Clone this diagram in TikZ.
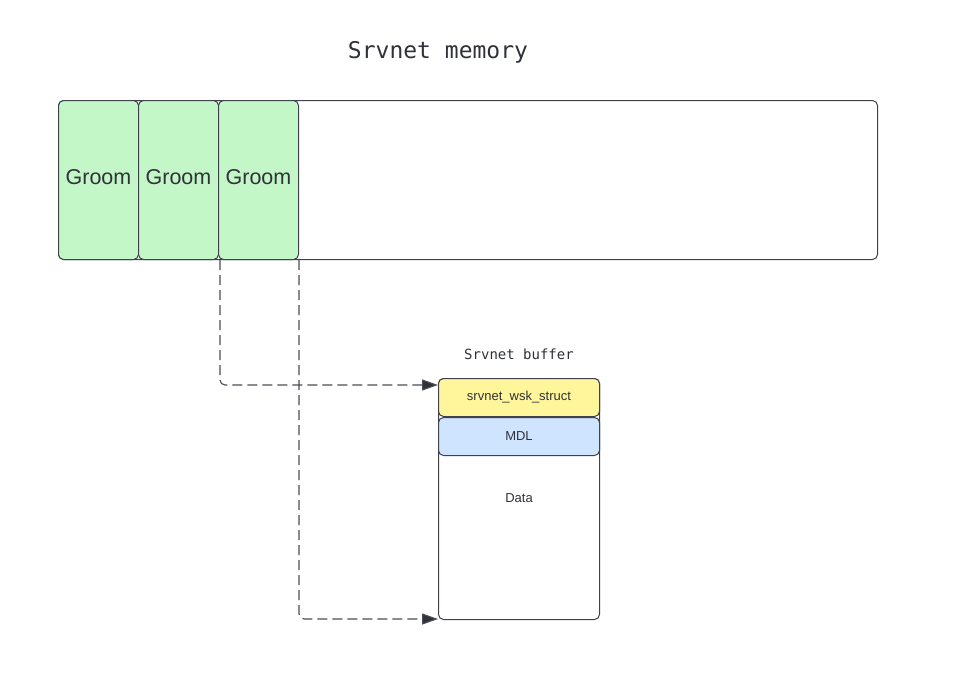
\documentclass[tikz,border=0pt]{standalone}
\usepackage{fontspec}
\setmainfont{Liberation Sans}
\newfontfamily\monofont{DejaVu Sans Mono}
\usetikzlibrary{arrows.meta}
\definecolor{linec}{HTML}{3F424A}
\definecolor{txtc}{HTML}{2F3238}
\definecolor{groomc}{HTML}{C3F7C8}
\definecolor{yellowc}{HTML}{FFF69B}
\definecolor{bluec}{HTML}{CFE4FF}
\definecolor{arrc}{HTML}{4A4D55}
\begin{document}
\begin{tikzpicture}[x=1pt,y=-1pt,
  box/.style={draw=linec, line width=1pt, rounded corners=5pt, inner sep=0pt, anchor=north west, text=txtc},
  groombox/.style={box, fill=groomc, minimum width=80, minimum height=159, font=\fontsize{21.5}{25}\selectfont, text depth=7pt},
  cell/.style={box, minimum width=161, minimum height=38, font=\fontsize{13}{16}\selectfont},
  ptr/.style={draw=arrc, line width=1.1pt, dash pattern=on 10pt off 5pt, rounded corners=5pt, -{Triangle[length=16pt,width=11pt,fill=txtc]}},
  monolabel/.style={text=txtc, anchor=base}
]
\useasboundingbox (0,0) rectangle (961,683);
\node[fill=white, minimum width=961, minimum height=683, anchor=north west, inner sep=0, draw=none] (bg) at (0,0) {};
\node[monolabel, font=\monofont\fontsize{23}{27}\selectfont] (title) at (438,58) {Srvnet memory};
\node[box, minimum width=819, minimum height=159] (mem) at (58,100) {};
\node[groombox] (g1) at (58,100) {Groom};
\node[groombox] (g2) at (138,100) {Groom};
\node[groombox] (g3) at (218,100) {Groom};
\node[monolabel, font=\monofont\fontsize{14}{17}\selectfont] (buflabel) at (519,359) {Srvnet buffer};
\node[box, minimum width=161, minimum height=241] (buf) at (438,378) {};
\node[cell, fill=yellowc] (wsk) at (438,378) {srvnet\_wsk\_struct};
\node[cell, fill=bluec] (mdl) at (438,417) {MDL};
\node[text=txtc, font=\fontsize{13}{16}\selectfont] (data) at (519,498) {Data};
\coordinate (s1) at ([xshift=2pt]g3.south west);
\coordinate (s2) at (g3.south east);
\coordinate (e1) at ([yshift=-7pt]buf.north west);
\coordinate (e2) at ([yshift=1pt]buf.south west);
\draw[ptr] (s1) |- (e1);
\draw[ptr] (s2) |- (e2);
\end{tikzpicture}
\end{document}
